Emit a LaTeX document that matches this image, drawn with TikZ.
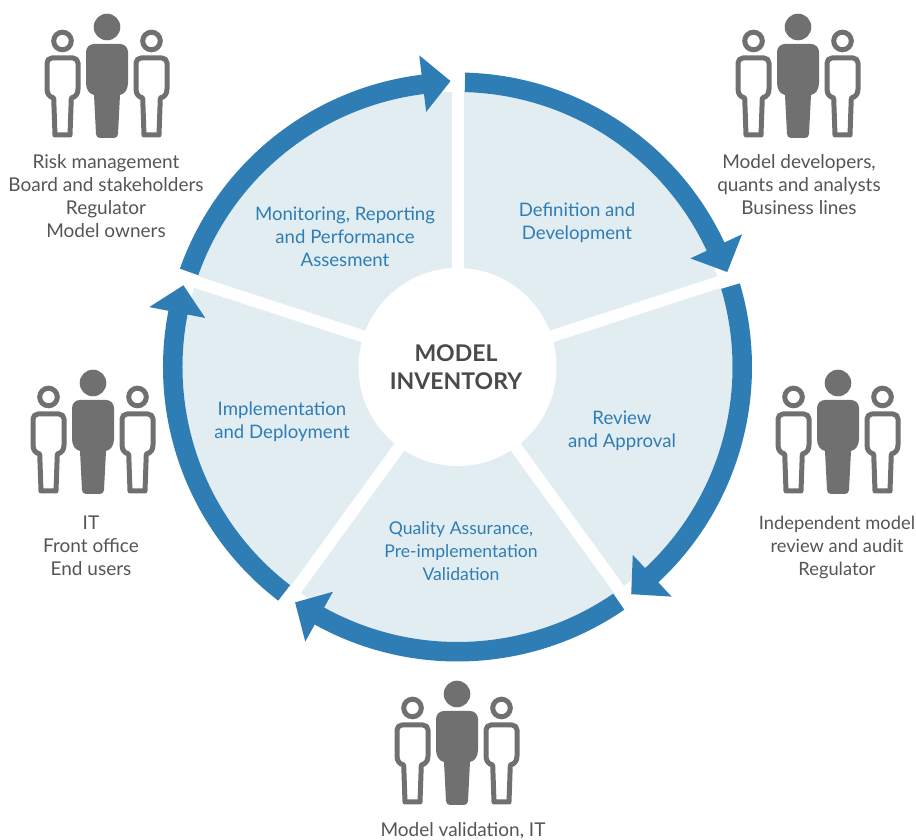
\documentclass[tikz,border=0pt]{standalone}
\usepackage{fontspec}
\setmainfont{Lato}
\definecolor{bandblue}{HTML}{2F7DB5}
\definecolor{wedge}{HTML}{E2EDF2}
\definecolor{icon}{HTML}{707070}
\definecolor{txt}{HTML}{555555}
\definecolor{title}{HTML}{4A4A4A}
\tikzset{
  people/.pic={
    \fill[icon] (0,0) circle (13.3);
    \fill[icon] (-21,-25) arc[start angle=180,end angle=90,radius=8] -- (13,-17) arc[start angle=90,end angle=0,radius=8]
      -- (21,-56) .. controls (21,-62) and (18,-67) .. (13,-68)
      -- (11,-107) arc[start angle=0,end angle=-90,radius=4] -- (-7,-111) arc[start angle=-90,end angle=-180,radius=4]
      -- (-13,-68) .. controls (-18,-67) and (-21,-62) .. (-21,-56) -- cycle;
    \foreach \sx in {-44.5,44.5}{
      \begin{scope}[shift={(\sx,-14)}]
        \draw[icon,line width=5] (0,0) circle (8.8);
        \draw[icon,line width=5,fill=white,line join=round] (-15.5,-22) arc[start angle=180,end angle=90,radius=5] -- (10.5,-17) arc[start angle=90,end angle=0,radius=5]
          -- (15.5,-48) .. controls (15.5,-53) and (13,-56) .. (8.8,-57)
          -- (7.5,-94) -- (-7.5,-94) -- (-8.8,-57) .. controls (-13,-56) and (-15.5,-53) .. (-15.5,-48) -- cycle;
      \end{scope}
    }
  },
  grouplabel/.style={text=txt,align=center,font=\fontsize{19}{23}\selectfont,inner sep=0pt},
  steplabel/.style={text=bandblue,align=center,font=\fontsize{18.6}{23}\selectfont,inner sep=0pt},
  centerlabel/.style={text=title,align=center,font=\fontsize{23}{28}\selectfont\bfseries,inner sep=0pt},
}
\begin{document}
\begin{tikzpicture}[x=1pt,y=1pt]
\useasboundingbox (0,0) rectangle (916,840);
\begin{scope}[shift={(457.5,473)}]
  \fill[wedge] (0,0) circle (275);
  \foreach \a in {90,18,-54,-126,162}
    \fill[white,rotate=\a] (0,-6) rectangle (282,6);
  \fill[white] (0,0) circle (99);
  \foreach \r in {0,-72,-144,-216,-288}{
    \fill[bandblue,rotate=\r] (88.5:294.5) arc[start angle=88.5,end angle=25,radius=294.5]
      -- (25:314) -- (19.4:286) -- (25:257) -- (25:275)
      arc[start angle=25,end angle=88.5,radius=275] -- cycle;
  }
\end{scope}
\pic at (107,813) {people};
\pic at (798,813) {people};
\pic at (838,457) {people};
\pic at (457,146) {people};
\pic at (93,457) {people};
\node[grouplabel] (g1) at (106,644) {Risk management\\Board and stakeholders\\Regulator\\Model owners};
\node[grouplabel] (g2) at (799,655) {Model developers,\\quants and analysts\\Business lines};
\node[grouplabel,font=\fontsize{18.3}{23}\selectfont] (g3) at (837,293) {Independent model\\review and audit\\Regulator};
\node[grouplabel] (g4) at (463,9) {Model validation, IT};
\node[grouplabel] (g5) at (91,294) {IT\\Front office\\End users};
\node[steplabel] (s1) at (345,603) {Monitoring, Reporting\\and Performance\\Assesment};
\node[steplabel] (s2) at (577,617) {Definition and\\Development};
\node[steplabel] (s3) at (622,409) {Review\\and Approval};
\node[steplabel,font=\fontsize{17.6}{23}\selectfont] (s4) at (461,289) {Quality Assurance,\\Pre-implementation\\Validation};
\node[steplabel] (s5) at (282,418) {Implementation\\and Deployment};
\node[centerlabel] (c) at (456,473) {MODEL\\INVENTORY};
\end{tikzpicture}
\end{document}
